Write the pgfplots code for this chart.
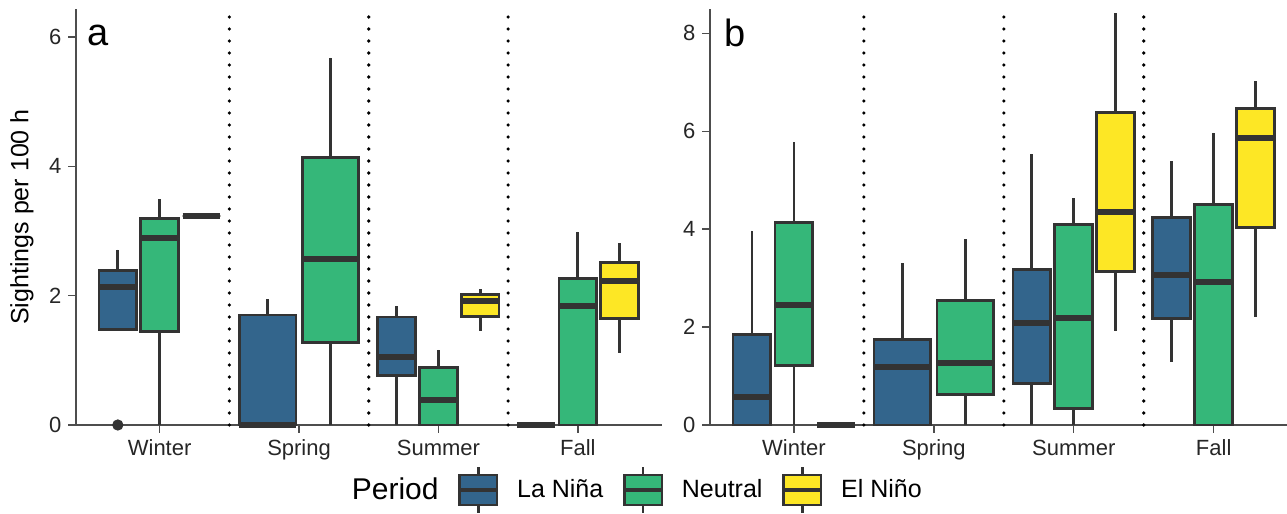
\documentclass[border=0pt]{standalone}
\usepackage{fontspec}
\setmainfont{Liberation Sans}
\usepackage{pgfplots}
\pgfplotsset{compat=1.18}
\usepgfplotslibrary{statistics}
\definecolor{nina}{HTML}{33658C}
\definecolor{neut}{HTML}{35B779}
\definecolor{nino}{HTML}{FDE725}
\definecolor{edge}{HTML}{333333}
\definecolor{axgray}{HTML}{4D4D4D}
\pgfplotsset{
  panel/.style={
    scale only axis,
    anchor=south west,
    axis lines*=left,
    axis line style={line width=0.7pt, draw=axgray, -},
    xmin=0.4, ymin=0,
    xtick={1,2,3,4},
    xticklabels={Winter,Spring,Summer,Fall},
    tick style={line width=0.7pt, draw=axgray},
    tick align=outside,
    major tick length=3.8pt,
    ticklabel style={font=\fontsize{11}{13}\selectfont, text=black!85},
    /pgf/number format/assume math mode=true,
    clip=false,
  },
  bx/.style={
    boxplot prepared={#1},
    boxplot/draw direction=y,
    boxplot/box extend=0.27,
    boxplot/whisker extend=0,
    draw=edge, line width=1.4pt,
    boxplot/every median/.style={line width=3pt, draw=edge},
    forget plot,
  },
  bxw/.style={bx={#1}, boxplot/box extend=0.405},
  sep/.style={forget plot, black, line width=1.8pt, line cap=round, dash pattern=on 0pt off 6pt},
  legkey/.style={legend image code/.code={
    \draw[line width=1.3pt, draw=edge] (9.4pt,-11.5pt) -- (9.4pt,11.5pt);
    \draw[line width=1.3pt, draw=edge, fill=#1] (0pt,-7.5pt) rectangle (18.8pt,7.5pt);
    \draw[line width=2pt, draw=edge] (0pt,0pt) -- (18.8pt,0pt);
  }},
}
\begin{document}
\begin{tikzpicture}
\useasboundingbox (0,0) rectangle (643.5pt,257pt);
% ---------------- panel a ----------------
\begin{axis}[panel, at={(38pt,44.5pt)}, width=292.75pt, height=208pt,
  xmax=4.6, ymax=6.43, ytick={0,2,4,6},
  ylabel={Sightings per 100 h},
  ylabel style={at={(axis description cs:-0.0922,0.5)}, anchor=center, font=\fontsize{12.5}{15}\selectfont}]
\addplot[sep] coordinates {(1.5,0) (1.5,6.43)};
\addplot[sep] coordinates {(2.5,0) (2.5,6.43)};
\addplot[sep] coordinates {(3.5,0) (3.5,6.43)};
% Winter
\addplot[bx={draw position=0.7, lower whisker=1.48, lower quartile=1.48, median=2.13, upper quartile=2.39, upper whisker=2.71}, fill=nina] coordinates {};
\addplot[only marks, mark=*, mark size=2.6pt, edge, forget plot] coordinates {(0.7,0)};
\addplot[bx={draw position=1.0, lower whisker=0, lower quartile=1.44, median=2.89, upper quartile=3.19, upper whisker=3.49}, fill=neut] coordinates {};
\addplot[bx={draw position=1.3, lower whisker=3.23, lower quartile=3.23, median=3.23, upper quartile=3.23, upper whisker=3.23}, fill=nino] coordinates {};
% Spring
\addplot[bxw={draw position=1.775, lower whisker=0, lower quartile=0, median=0, upper quartile=1.70, upper whisker=1.94}, fill=nina] coordinates {};
\addplot[bxw={draw position=2.225, lower whisker=0, lower quartile=1.27, median=2.56, upper quartile=4.14, upper whisker=5.68}, fill=neut] coordinates {};
% Summer
\addplot[bx={draw position=2.7, lower whisker=0, lower quartile=0.77, median=1.05, upper quartile=1.67, upper whisker=1.84}, fill=nina] coordinates {};
\addplot[bx={draw position=3.0, lower whisker=0, lower quartile=0, median=0.39, upper quartile=0.89, upper whisker=1.16}, fill=neut] coordinates {};
\addplot[bx={draw position=3.3, lower whisker=1.45, lower quartile=1.68, median=1.92, upper quartile=2.02, upper whisker=2.10}, fill=nino] coordinates {};
% Fall
\addplot[bx={draw position=3.7, lower whisker=0, lower quartile=0, median=0, upper quartile=0, upper whisker=0}, fill=nina] coordinates {};
\addplot[bx={draw position=4.0, lower whisker=0, lower quartile=0, median=1.84, upper quartile=2.27, upper whisker=2.99}, fill=neut] coordinates {};
\addplot[bx={draw position=4.3, lower whisker=1.12, lower quartile=1.65, median=2.22, upper quartile=2.51, upper whisker=2.81}, fill=nino] coordinates {};
\node[font=\fontsize{19}{22}\selectfont] at (axis description cs:0.0376,0.9375) {a};
\end{axis}
% ---------------- panel b ----------------
\begin{axis}[panel, at={(355pt,44.5pt)}, width=288.5pt, height=208pt,
  xmax=4.524, ymax=8.497, ytick={0,2,4,6,8},
  legend style={at={(axis description cs:-0.139,-0.156)}, anchor=center, draw=none, fill=none,
    legend columns=-1, font=\fontsize{12.5}{15}\selectfont,
    /tikz/every odd column/.append style={column sep=7pt},
    /tikz/every even column/.append style={column sep=7.5pt}}]
\addplot[sep] coordinates {(1.5,0) (1.5,8.497)};
\addplot[sep] coordinates {(2.5,0) (2.5,8.497)};
\addplot[sep] coordinates {(3.5,0) (3.5,8.497)};
% Winter
\addplot[bx={draw position=0.7, lower whisker=0, lower quartile=0, median=0.565, upper quartile=1.85, upper whisker=3.97}, fill=nina] coordinates {};
\addplot[bx={draw position=1.0, lower whisker=0, lower quartile=1.21, median=2.45, upper quartile=4.13, upper whisker=5.77}, fill=neut] coordinates {};
\addplot[bx={draw position=1.3, lower whisker=0, lower quartile=0, median=0, upper quartile=0, upper whisker=0}, fill=nino] coordinates {};
% Spring
\addplot[bxw={draw position=1.775, lower whisker=0, lower quartile=0, median=1.18, upper quartile=1.75, upper whisker=3.30}, fill=nina] coordinates {};
\addplot[bxw={draw position=2.225, lower whisker=0, lower quartile=0.63, median=1.27, upper quartile=2.54, upper whisker=3.79}, fill=neut] coordinates {};
% Summer
\addplot[bx={draw position=2.7, lower whisker=0, lower quartile=0.84, median=2.08, upper quartile=3.18, upper whisker=5.54}, fill=nina] coordinates {};
\addplot[bx={draw position=3.0, lower whisker=0, lower quartile=0.34, median=2.19, upper quartile=4.10, upper whisker=4.63}, fill=neut] coordinates {};
\addplot[bx={draw position=3.3, lower whisker=1.91, lower quartile=3.13, median=4.35, upper quartile=6.39, upper whisker=8.41}, fill=nino] coordinates {};
% Fall
\addplot[bx={draw position=3.7, lower whisker=1.29, lower quartile=2.17, median=3.06, upper quartile=4.24, upper whisker=5.39}, fill=nina] coordinates {};
\addplot[bx={draw position=4.0, lower whisker=0, lower quartile=0, median=2.93, upper quartile=4.51, upper whisker=5.97}, fill=neut] coordinates {};
\addplot[bx={draw position=4.3, lower whisker=2.21, lower quartile=4.03, median=5.87, upper quartile=6.46, upper whisker=7.03}, fill=nino] coordinates {};
\node[font=\fontsize{19}{22}\selectfont] at (axis description cs:0.0433,0.9435) {b};
\addlegendimage{empty legend}\addlegendentry{\fontsize{15}{18}\selectfont Period}
\addlegendimage{legkey=nina}\addlegendentry{La Niña}
\addlegendimage{legkey=neut}\addlegendentry{Neutral}
\addlegendimage{legkey=nino}\addlegendentry{El Niño}
\end{axis}
\end{tikzpicture}
\end{document}
